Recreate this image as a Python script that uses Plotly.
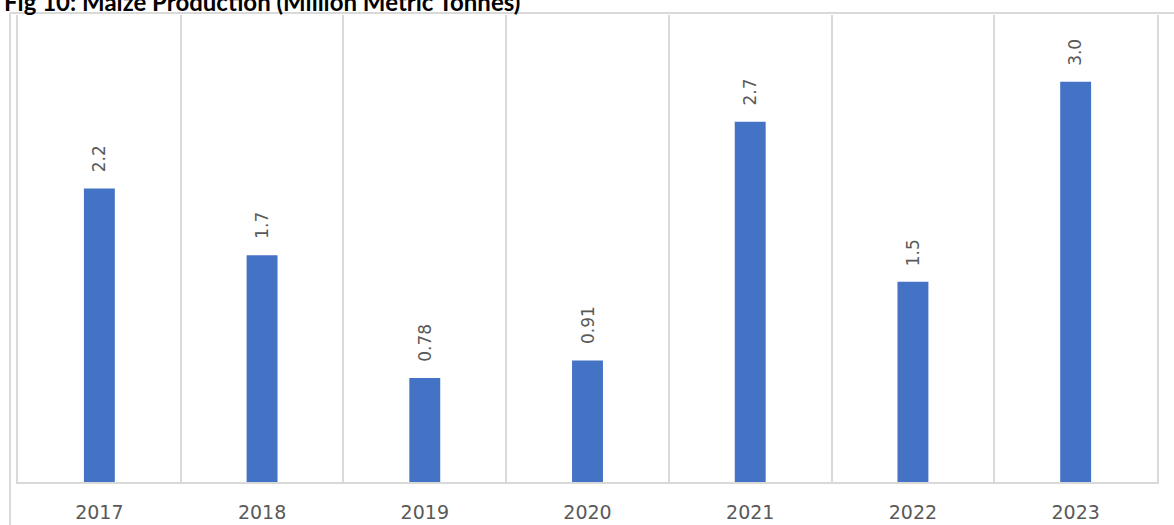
import plotly.graph_objects as go

years = ["2017", "2018", "2019", "2020", "2021", "2022", "2023"]
production = [2.2, 1.7, 0.78, 0.91, 2.7, 1.5, 3.0]
labels = ["2.2", "1.7", "0.78", "0.91", "2.7", "1.5", "3.0"]
title_text = "Fig 10: Maize Production (Million Metric Tonnes)"

W, H = 1174, 525
ml, mr, mt, mb = 18, 17, 15, 43
pw, ph = W - ml - mr, H - mt - mb

def px_x(p):
    return (p - ml) / pw

def px_y(p):
    return (H - mb - p) / ph

grid = "#d9d9d9"
label_color = "#595959"

fig = go.Figure()
fig.add_trace(go.Bar(
    x=years, y=production, width=0.19,
    marker=dict(color="#4472C4", line=dict(width=0)),
    hoverinfo="x+y",
))

for i, (v, t) in enumerate(zip(production, labels)):
    fig.add_annotation(
        xref="x", yref="y", x=i, y=v, text=t, showarrow=False, textangle=-90,
        xanchor="center", yanchor="bottom", yshift=14,
        font=dict(family="DejaVu Sans", size=17, color=label_color),
    )

# outer chart border (left and top)
fig.add_shape(type="line", xref="paper", yref="paper",
              x0=px_x(10), x1=px_x(W + 5), y0=px_y(13), y1=px_y(13),
              line=dict(color=grid, width=2))
fig.add_shape(type="line", xref="paper", yref="paper",
              x0=px_x(10), x1=px_x(10), y0=px_y(13), y1=px_y(H + 5),
              line=dict(color=grid, width=2))

fig.update_layout(
    width=W, height=H,
    margin=dict(l=ml, r=mr, t=mt, b=mb, autoexpand=False),
    paper_bgcolor="white", plot_bgcolor="white",
    showlegend=False,
    bargap=0.81,
    title=dict(text=title_text, x=4 / W, xanchor="left", xref="container",
               yref="container", y=1 - 10.5 / H, yanchor="bottom",
               pad=dict(t=0, b=0, l=0, r=0),
               font=dict(family="Lato", size=24, color="#000000", weight="bold")),
    xaxis=dict(
        type="category", tickson="boundaries", showgrid=True,
        gridcolor=grid, gridwidth=2, showline=True, linecolor=grid,
        linewidth=2, ticks="", ticklabelstandoff=12,
        tickfont=dict(family="DejaVu Sans", size=19, color=label_color),
        range=[-0.5, 6.5], fixedrange=True,
    ),
    yaxis=dict(
        range=[0, 3.5], showgrid=False, zeroline=False,
        showticklabels=False, showline=True, mirror=True,
        linecolor=grid, linewidth=2, ticks="", fixedrange=True,
    ),
)

fig.write_html(
    "out.html",
    config={"displayModeBar": False},
    post_script="document.body.style.margin='0';document.body.style.padding='0';",
)
